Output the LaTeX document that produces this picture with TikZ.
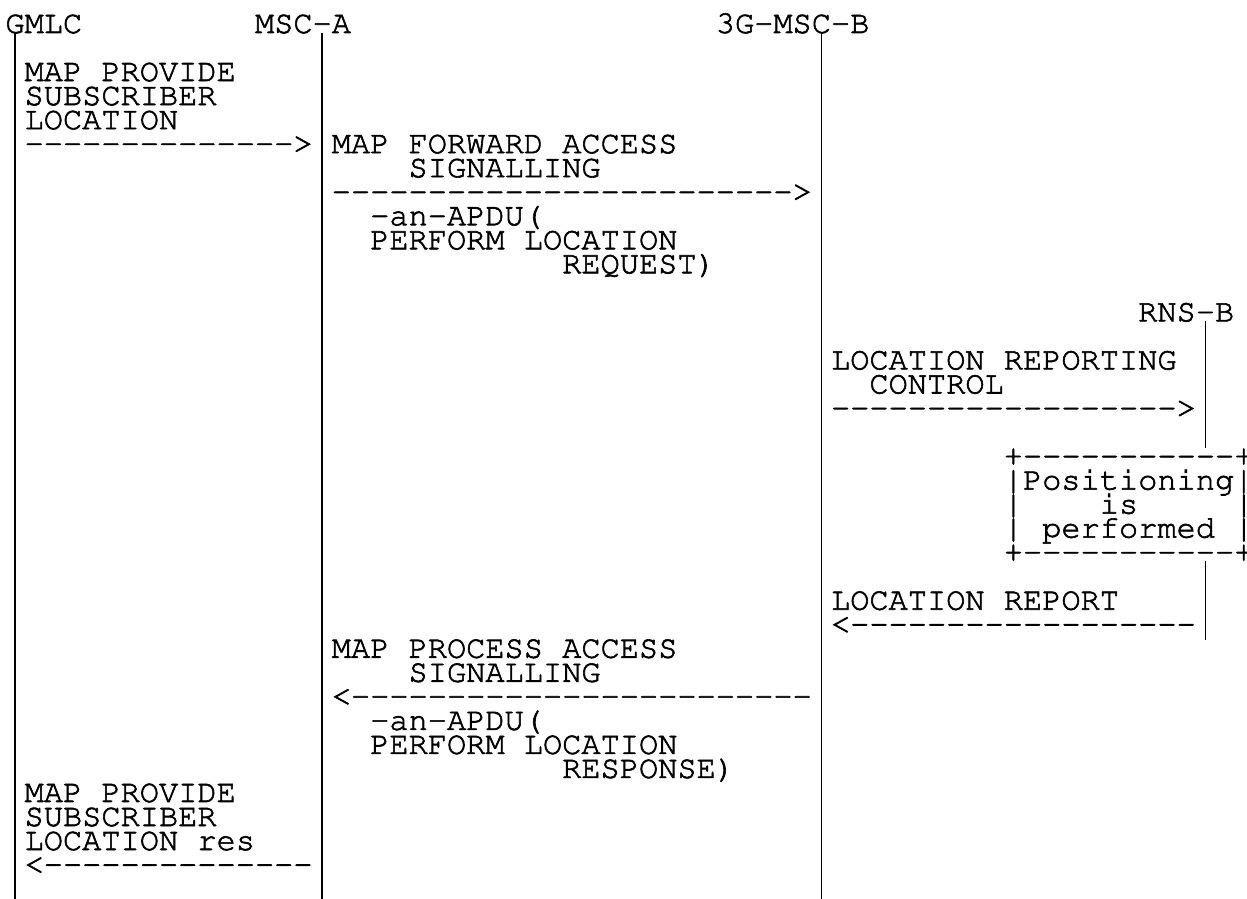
\documentclass[tikz,border=0pt]{standalone}
\usepackage[T1]{fontenc}
\usepackage{courier}
\newcommand\dshs[1]{\foreach\k in {1,...,#1}{\hbox{-}}}
\newcommand\heavyon{\special{pdf:literal direct 0.6 w 2 Tr}}
\newcommand\heavyoff{\special{pdf:literal direct 0 Tr}}
\tikzset{
  txt/.style={anchor=base west, inner sep=0pt, outer sep=0pt,
    font=\ttfamily\fontsize{32pt}{24pt}\selectfont,
    execute at begin node=\heavyon, execute at end node=\heavyoff},
  life/.style={line width=1.8pt, black}
}
\begin{document}
\begin{tikzpicture}
\useasboundingbox (0pt,0pt) rectangle (1247pt,-899pt);
\begin{scope}[shift={(5.4pt,-33pt)}, x=19.2pt, y=-24.03pt]
% headers
\node[txt] (gmlc) at (0,0) {GMLC};
\node[txt] (msca) at (13,0) {MSC-A};
\node[txt] (mscb) at (37,0) {3G-MSC-B};
\node[txt] (rnsb) at (59,12) {RNS-B};
% lifelines
\coordinate (gmlcT) at (0.5,-0.02);  \coordinate (gmlcB) at (0.5,36.1);
\coordinate (mscaT) at (16.5,-0.02); \coordinate (mscaB) at (16.5,36.1);
\coordinate (mscbT) at (42.5,-0.02); \coordinate (mscbB) at (42.5,36.1);
\coordinate (rnsT1) at (62.5,11.98); \coordinate (rnsB1) at (62.5,17.28);
\coordinate (rnsT2) at (62.5,21.98); \coordinate (rnsB2) at (62.5,25.28);
\draw[life] (gmlcT) -- (gmlcB);
\draw[life] (mscaT) -- (mscaB);
\draw[life] (mscbT) -- (mscbB);
\draw[life] (rnsT1) -- (rnsB1);
\draw[life] (rnsT2) -- (rnsB2);
% message 1
\node[txt] (m1a) at (1,2) {MAP PROVIDE};
\node[txt] (m1b) at (1,3) {SUBSCRIBER};
\node[txt] (m1c) at (1,4) {LOCATION};
\node[txt] (m1r) at (1,5) {\dshs{14}\hbox{>}};
% message 2
\node[txt] (m2a) at (17,5) {MAP FORWARD ACCESS};
\node[txt] (m2b) at (21,6) {SIGNALLING};
\node[txt] (m2r) at (17,7) {\dshs{24}\hbox{>}};
\node[txt] (m2c) at (19,8) {-an-APDU(};
\node[txt] (m2d) at (19,9) {PERFORM LOCATION};
\node[txt] (m2e) at (29,10) {REQUEST)};
% message 3
\node[txt] (m3a) at (43,14) {LOCATION REPORTING};
\node[txt] (m3b) at (45,15) {CONTROL};
\node[txt] (m3r) at (43,16) {\dshs{18}\hbox{>}};
% box
\node[txt] (bx1) at (52,18) {+\dshs{11}+};
\node[txt] (bx2) at (52,19) {|Positioning|};
\node[txt] (bx3l) at (52,20) {|};
\node[txt] (bx3) at (57,20) {is};
\node[txt] (bx3r) at (64,20) {|};
\node[txt] (bx4l) at (52,21) {|};
\node[txt] (bx4) at (54,21) {performed};
\node[txt] (bx4r) at (64,21) {|};
\node[txt] (bx5) at (52,22) {+\dshs{11}+};
% message 4
\node[txt] (m4a) at (43,24) {LOCATION REPORT};
\node[txt] (m4r) at (43,25) {\hbox{<}\dshs{18}};
% message 5
\node[txt] (m5a) at (17,26) {MAP PROCESS ACCESS};
\node[txt] (m5b) at (21,27) {SIGNALLING};
\node[txt] (m5r) at (17,28) {\hbox{<}\dshs{24}};
\node[txt] (m5c) at (19,29) {-an-APDU(};
\node[txt] (m5d) at (19,30) {PERFORM LOCATION};
\node[txt] (m5e) at (29,31) {RESPONSE)};
% message 6
\node[txt] (m6a) at (1,32) {MAP PROVIDE};
\node[txt] (m6b) at (1,33) {SUBSCRIBER};
\node[txt] (m6c) at (1,34) {LOCATION res};
\node[txt] (m6r) at (1,35) {\hbox{<}\dshs{14}};
\end{scope}
\end{tikzpicture}
\end{document}
